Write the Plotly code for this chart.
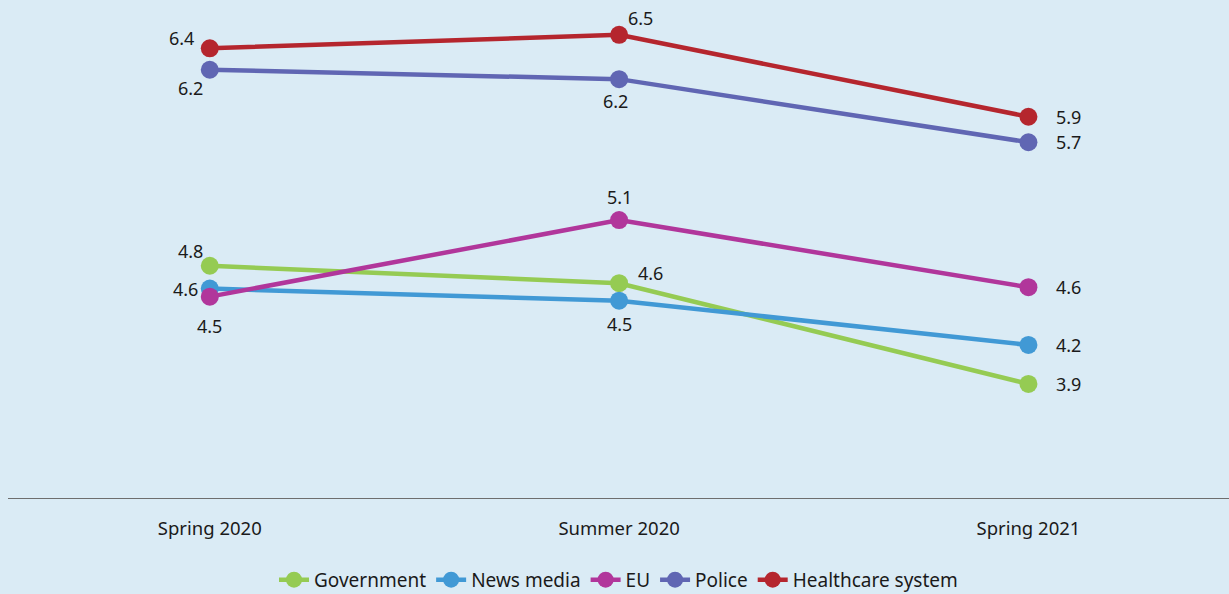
import plotly.graph_objects as go

periods = ["Spring 2020", "Summer 2020", "Spring 2021"]
series_names = ["Government", "News media", "EU", "Police", "Healthcare system"]
government = [4.78, 4.65, 3.9]
news_media = [4.61, 4.52, 4.19]
eu = [4.55, 5.12, 4.62]
police = [6.24, 6.17, 5.7]
healthcare = [6.4, 6.5, 5.89]
labels = {
    "Government": ["4.8", "4.6", "3.9"],
    "News media": ["4.6", "4.5", "4.2"],
    "EU": ["4.5", "5.1", "4.6"],
    "Police": ["6.2", "6.2", "5.7"],
    "Healthcare system": ["6.4", "6.5", "5.9"],
}
values = [government, news_media, eu, police, healthcare]
colors = ["#95cb53", "#4199d5", "#b1369b", "#6066b3", "#b5262e"]
# label offsets (px) relative to each point: (dx, dy) with dy upward
offsets = {
    "Government": [(-19, 15), (31, 10), (40, 0)],
    "News media": [(-24, 0), (0, -23), (40, 0)],
    "EU": [(0, -29), (0, 23), (40, 0)],
    "Police": [(-19, -18), (-4, -22), (40, 0)],
    "Healthcare system": [(-28, 10), (21, 17), (40, 0)],
}

fig = go.Figure()
annotations = []
for name, vals, col in zip(series_names, values, colors):
    fig.add_trace(go.Scatter(
        x=periods, y=vals, name=name, mode="lines+markers",
        line=dict(color=col, width=4.5),
        marker=dict(color=col, size=18),
    ))
    for xv, yv, lab, (dx, dy) in zip(periods, vals, labels[name], offsets[name]):
        annotations.append(dict(
            x=xv, y=yv, xref="x", yref="y", text=lab, showarrow=False,
            xshift=dx, yshift=dy, xanchor="center", yanchor="middle",
            font=dict(family="Noto Sans", size=18, color="#1a1a1a"),
        ))

bg = "#daebf5"
fig.update_layout(
    width=1229, height=594,
    paper_bgcolor=bg, plot_bgcolor=bg,
    margin=dict(l=8, r=0, t=8, b=96, autoexpand=False),
    font=dict(family="Noto Sans", size=16, color="#1a1a1a"),
    showlegend=True,
    annotations=annotations,
    legend=dict(orientation="h", x=0.5, xanchor="center", y=-0.167, yanchor="middle",
                font=dict(size=19), traceorder="normal", bgcolor="rgba(0,0,0,0)"),
    xaxis=dict(type="category", range=[-0.493, 2.49], showgrid=False, zeroline=False,
               showline=True, linecolor="#6e6e6e", linewidth=1.2, ticks="",
               ticklabelstandoff=14, tickfont=dict(size=18.5)),
    yaxis=dict(range=[3.05, 6.7], visible=False, showgrid=False, zeroline=False),
)
fig.write_html("out.html", config={"displayModeBar": False},
               post_script="document.body.style.margin='0';document.body.style.background='" + bg + "';")
